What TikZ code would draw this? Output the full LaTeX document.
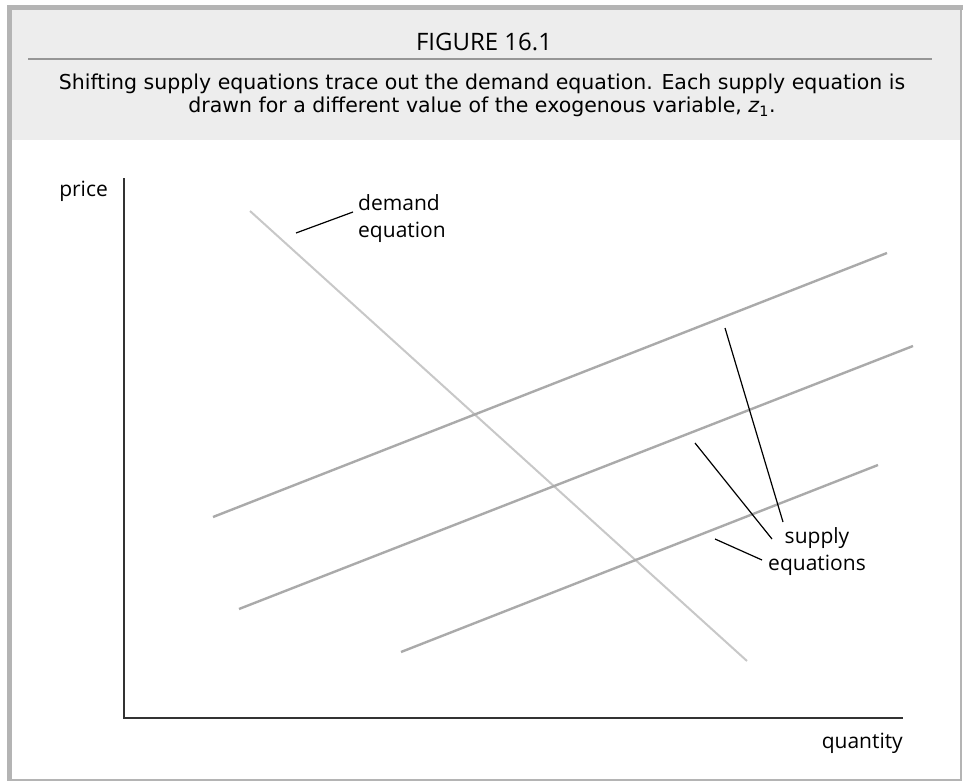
\documentclass[tikz,border=0pt]{standalone}
\usepackage{fontspec}
\setmainfont{Open Sans}
\newfontfamily\lblfont{Open Sans}
\newfontfamily\capfont{DejaVu Sans}
\begin{document}
\begin{tikzpicture}[x=1pt,y=-1pt,
  lbl/.style={font=\lblfont\fontsize{21}{27}\selectfont, inner sep=0pt, align=left},
  captext/.style={font=\capfont\fontsize{20.5}{23}\selectfont, inner sep=0pt, anchor=base},
  supplyline/.style={draw={rgb,255:red,170;green,170;blue,170}, line width=2.4pt},
  demandline/.style={draw={rgb,255:red,200;green,200;blue,200}, line width=2pt},
  axisline/.style={draw={rgb,255:red,50;green,50;blue,50}, line width=1.5pt},
  leader/.style={draw=black, line width=1.2pt}]
\definecolor{framegray}{RGB}{180,180,180}
\definecolor{headbg}{RGB}{237,237,237}
\definecolor{sepgray}{RGB}{150,150,150}
\useasboundingbox (0,0) rectangle (963,781);
\fill[white] (0,0) rectangle (963,781);
% frame
\fill[headbg] (12,10) rectangle (961,140);
\fill[framegray] (7,5) rectangle (963,10);
\fill[framegray] (7,5) rectangle (12,781);
\draw[framegray, line width=1.2pt] (961,10) -- (961,780) -- (12,780);
% header
\node[font=\lblfont\fontsize{24}{28}\selectfont, inner sep=0pt, anchor=base] (title) at (484,51) {FIGURE 16.1};
\draw[sepgray, line width=1.2pt] (28,59) -- (932,59);
\node[captext] (cap1) at (482,90) {Shifting supply equations trace out the demand equation. Each supply equation is};
\node[captext] (cap2) at (482,113) {drawn for a different value of the exogenous variable, \textit{z}\textsubscript{1}.};
% axes
\coordinate (ytop) at (124,178);
\coordinate (origin) at (124,718);
\coordinate (xend) at (903,718);
\draw[axisline] (ytop) -- (origin) -- (xend);
\node[lbl, anchor=base east] (price) at (108,196) {price};
\node[lbl, anchor=base east] (quantity) at (903,748) {quantity};
% demand
\coordinate (d1) at (250,211);
\coordinate (d2) at (747,661);
\draw[demandline] (d1) -- (d2);
% supply lines
\coordinate (s1a) at (213,517); \coordinate (s1b) at (887,253);
\coordinate (s2a) at (239,609); \coordinate (s2b) at (913,346);
\coordinate (s3a) at (401,652); \coordinate (s3b) at (878,465);
\draw[supplyline] (s1a) -- (s1b);
\draw[supplyline] (s2a) -- (s2b);
\draw[supplyline] (s3a) -- (s3b);
% demand label
\node[lbl, anchor=base west] (dlab) at (358,237) {demand\\equation};
\coordinate (dl1) at (296,233); \coordinate (dl2) at (353,212);
\draw[leader] (dl1) -- (dl2);
% supply label
\node[lbl, align=center, anchor=base] (slab) at (817,570) {supply\\equations};
\coordinate (sl1a) at (725,328); \coordinate (sl1b) at (783,522);
\coordinate (sl2a) at (695,443); \coordinate (sl2b) at (772,539);
\coordinate (sl3a) at (715,539); \coordinate (sl3b) at (762,560);
\draw[leader] (sl1a) -- (sl1b);
\draw[leader] (sl2a) -- (sl2b);
\draw[leader] (sl3a) -- (sl3b);
\end{tikzpicture}
\end{document}
